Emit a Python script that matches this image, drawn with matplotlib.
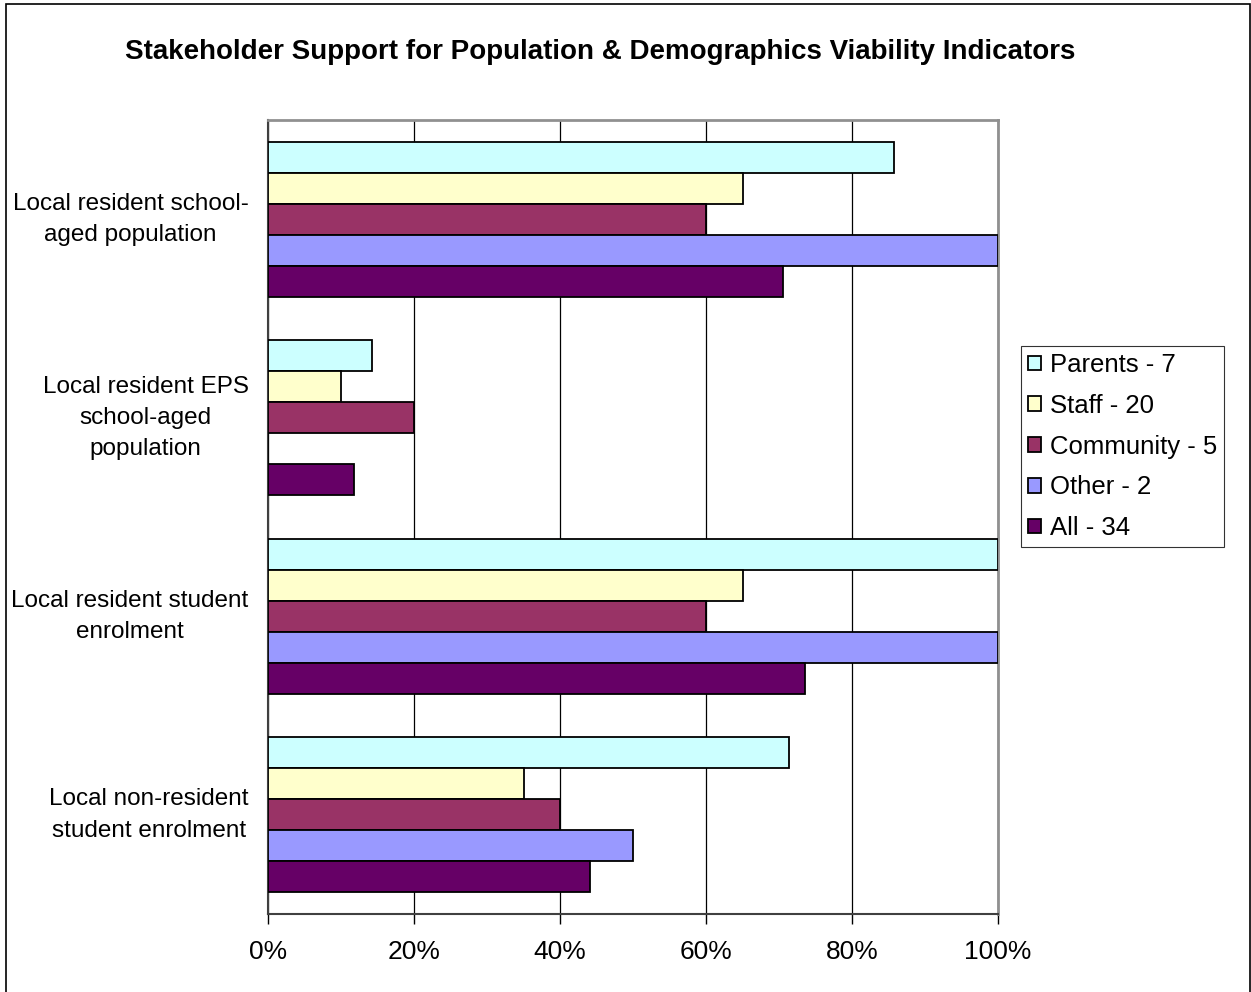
import numpy as np
import matplotlib
matplotlib.use("Agg")
import matplotlib.pyplot as plt
from matplotlib.patches import Rectangle
from matplotlib.ticker import PercentFormatter
from matplotlib.transforms import ScaledTranslation

plt.rcParams['font.family'] = ['Liberation Sans', 'DejaVu Sans']

categories = ["Local resident school-\naged population",
              "Local resident EPS\nschool-aged\npopulation",
              "Local resident student\nenrolment",
              "Local non-resident\nstudent enrolment"]
series = ["Parents - 7", "Staff - 20", "Community - 5", "Other - 2", "All - 34"]
parents = [85.7, 14.3, 100, 71.4]
staff = [65, 10, 65, 35]
community = [60, 20, 60, 40]
other = [100, 0, 100, 50]
all_ = [70.6, 11.8, 73.5, 44.1]
colors = ["#CCFFFF", "#FFFFCC", "#993366", "#9999FF", "#660066"]

values = [parents, staff, community, other, all_]

fig = plt.figure(figsize=(12.51, 9.92), dpi=100)
ax = fig.add_axes([268/1251, 78/992, 730/1251, 794/992])

h = 0.156
y = np.arange(len(categories))
for i, (vals, name, c) in enumerate(zip(values, series, colors)):
    ax.barh(y - 2*h + i*h, vals, height=h, color=c, edgecolor='black',
            linewidth=1.3, label=name, zorder=3)

ax.set_ylim(len(categories) - 0.5, -0.5)
ax.set_xlim(0, 100)
ax.set_xticks(np.arange(0, 101, 20))
ax.xaxis.set_major_formatter(PercentFormatter(decimals=0))
ax.set_yticks(y)
ax.set_yticklabels(categories, fontsize=17.5, multialignment='center', linespacing=1.55)
ax.tick_params(axis='y', length=0, pad=14)
ax.tick_params(axis='x', length=7, width=1, direction='out', labelsize=19, pad=12)
ax.grid(axis='x', color='black', linewidth=0.9, zorder=0)

# labels sit a little above the group centre in the original
shift = ScaledTranslation(0, 0.07, fig.dpi_scale_trans)
for lab in ax.get_yticklabels():
    lab.set_transform(lab.get_transform() + shift)

for side in ['left', 'bottom']:
    ax.spines[side].set_color('#404040')
    ax.spines[side].set_linewidth(1.5)
for side in ['top', 'right']:
    ax.spines[side].set_color('#909090')
    ax.spines[side].set_linewidth(2)

fig.text(600/1251, 1 - 52/992, "Stakeholder Support for Population & Demographics Viability Indicators",
         ha='center', va='center', fontsize=20, fontweight='bold')

leg = fig.legend(loc='upper left', bbox_to_anchor=(1021/1251, 1 - 346/992),
                 fontsize=18.5, frameon=True, fancybox=False, edgecolor='black',
                 handlelength=0.5, handleheight=0.5, handletextpad=0.35,
                 labelspacing=0.65, borderpad=0.28, borderaxespad=0)
leg.get_frame().set_linewidth(0.8)

fig.patches.append(Rectangle((6/1251, -0.01), 1244/1251, 1 - 4/992 + 0.01,
                             transform=fig.transFigure, fill=False,
                             edgecolor='black', linewidth=1.2))

fig.savefig("out.png", dpi=100)
